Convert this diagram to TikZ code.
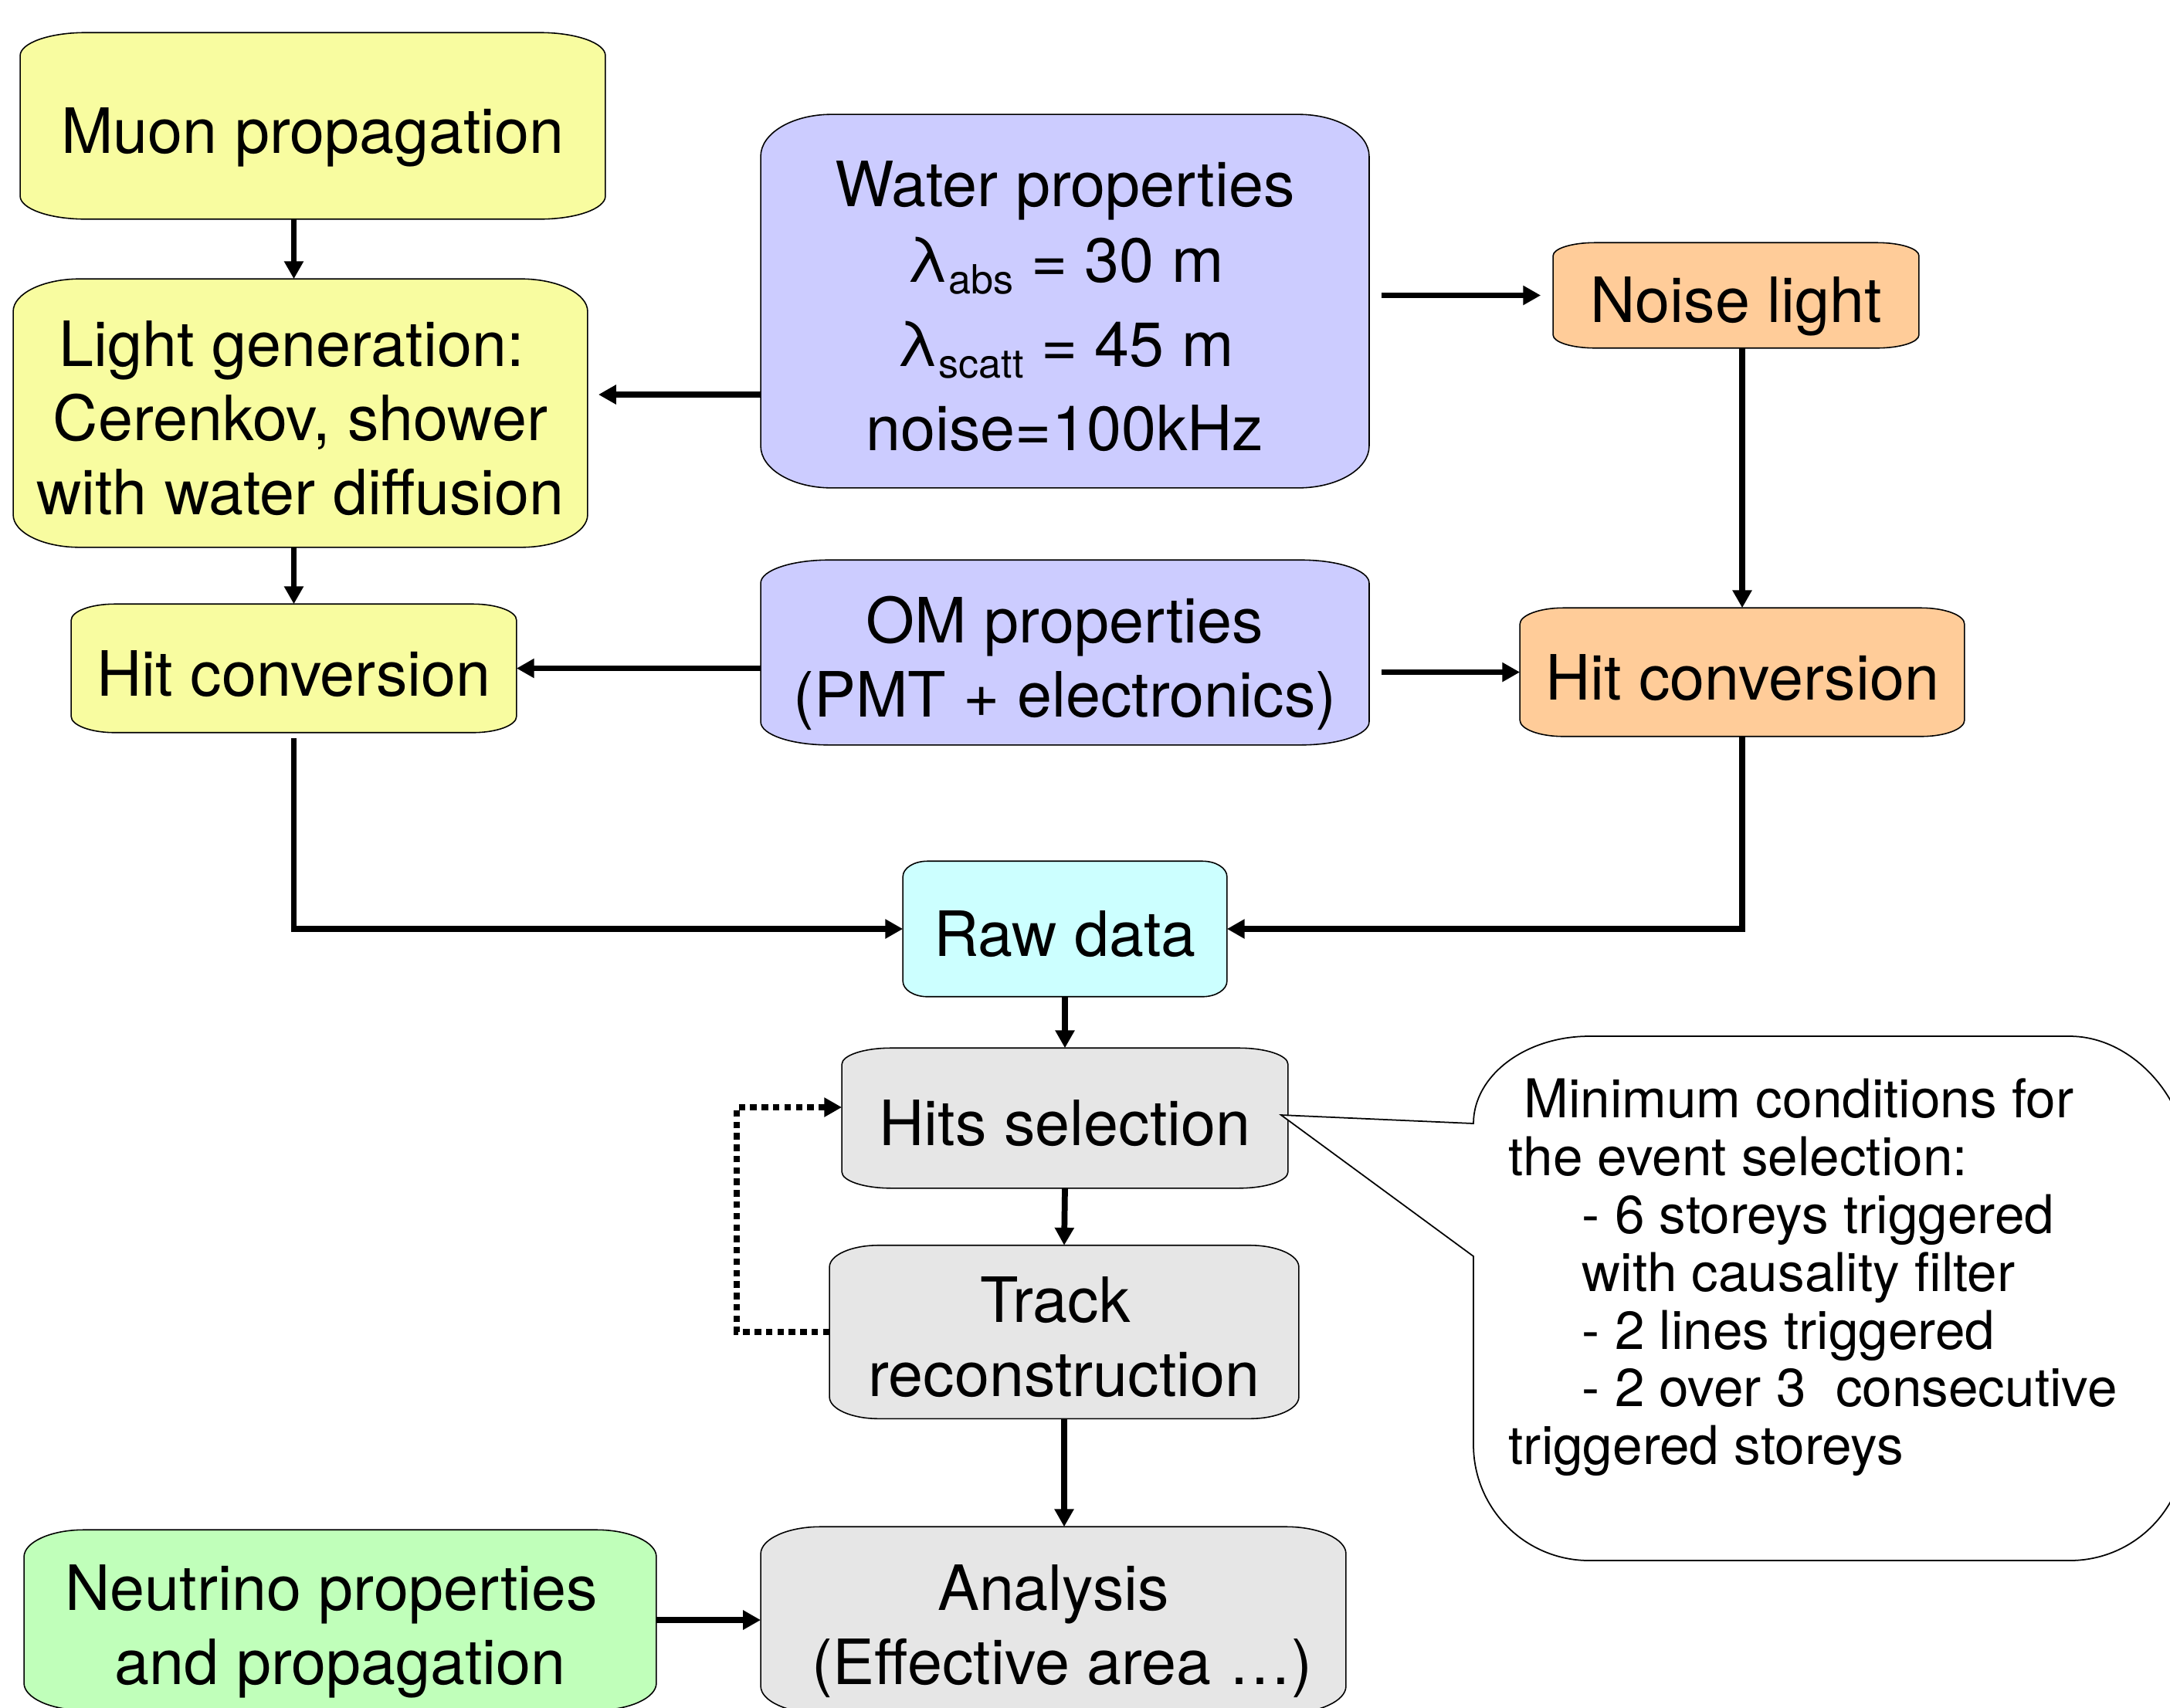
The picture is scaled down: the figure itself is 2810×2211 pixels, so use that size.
\documentclass[tikz,border=0pt]{standalone}
\usepackage{fontspec}
\setmainfont{TeX Gyre Heros}
\usetikzlibrary{arrows.meta,calc,backgrounds}

\definecolor{cyel}{RGB}{248,252,160}
\definecolor{clav}{RGB}{204,204,255}
\definecolor{corg}{RGB}{255,204,153}
\definecolor{ccyan}{RGB}{204,255,255}
\definecolor{cgray}{RGB}{230,230,230}
\definecolor{cgreen}{RGB}{192,255,186}

\newcommand\eshape[4]{%
 \begin{scope}[on background layer]
 \path[boxline, fill=#4]
   ($(#1.north west)+(#2,0pt)$) -- ($(#1.north east)+(-#2,0pt)$)
   .. controls +(0.55*#2,0pt) and +(0pt,0.55*#3) .. ($(#1.north east)+(0pt,-#3)$)
   -- ($(#1.south east)+(0pt,#3)$)
   .. controls +(0pt,-0.55*#3) and +(0.55*#2,0pt) .. ($(#1.south east)+(-#2,0pt)$)
   -- ($(#1.south west)+(#2,0pt)$)
   .. controls +(-0.55*#2,0pt) and +(0pt,-0.55*#3) .. ($(#1.south west)+(0pt,#3)$)
   -- ($(#1.north west)+(0pt,-#3)$)
   .. controls +(0pt,0.55*#3) and +(-0.55*#2,0pt) .. ($(#1.north west)+(#2,0pt)$) -- cycle;
 \end{scope}}

\newcommand\sub[1]{\raisebox{-4.3pt}{\fontsize{14.8}{14.8}\selectfont #1}}
\newcommand\tp{\rule{0pt}{25pt}}
\newcommand\bt{\rule[-4.8pt]{0pt}{4.8pt}}
\newcommand\tsp{\hspace*{6.4pt}}

\begin{document}
\begin{tikzpicture}[x=0.01cm,y=-0.01cm,
  box/.style={inner sep=0pt, align=center, font=\fontsize{23}{27.3}\selectfont},
  boxline/.style={draw=black, line width=0.45pt},
  arr/.style={line width=2.2pt, -{Triangle[width=6.8pt,length=6.5pt]}},
  dotarr/.style={line width=2.2pt, dash pattern=on 2.4pt off 1.8pt, -{Triangle[width=6.8pt,length=6.5pt]}},
  note/.style={inner sep=0pt, align=left, anchor=north west, font=\fontsize{19.7}{21.3}\selectfont},
]
\useasboundingbox (0,0) rectangle (2810,2211);

% nodes
\node[box, minimum width=7.56cm, minimum height=2.40cm] (muon) at (405,163) {\tp Muon propagation\bt};
\node[box, minimum width=7.42cm, minimum height=3.46cm] (light) at (389,535) {\tp Light generation:\tsp\\Cerenkov, shower\\with water diffusion\bt};
\node[box, minimum width=5.75cm, minimum height=1.65cm] (hity) at (380.5,865.5) {\tp Hit conversion\bt};
\node[box, minimum width=7.86cm, minimum height=4.82cm] (water) at (1379,390)
  {\tp Water properties\\[0.7pt]
   λ\sub{abs} = 30 m\\[3.7pt]
   λ\sub{scatt} = 45 m\\[3.7pt]
   noise=100kHz\bt};
\node[box, minimum width=4.72cm, minimum height=1.35cm] (noise) at (2248,382.5) {\tp Noise light\bt};
\node[box, minimum width=7.86cm, minimum height=2.38cm] (om) at (1379,845) {\tp OM properties\\(PMT + electronics)\bt};
\node[box, minimum width=5.74cm, minimum height=1.65cm] (hito) at (2256,870.5) {\tp Hit conversion\bt};
\node[box, minimum width=4.18cm, minimum height=1.74cm] (raw) at (1379,1203) {\tp Raw data\bt};
\node[box, minimum width=5.76cm, minimum height=1.80cm] (hits) at (1379,1448) {\tp Hits selection\bt};
\node[box, minimum width=6.06cm, minimum height=2.23cm] (track) at (1378,1725) {\tp Track\tsp\\reconstruction\bt};
\node[box, minimum width=7.56cm, minimum height=2.40cm] (analysis) at (1364,2098) {\tp Analysis\\\tsp(Effective area …)\bt};
\node[box, minimum width=8.17cm, minimum height=2.32cm] (neutrino) at (440.5,2098) {\tp Neutrino properties\tsp\\and propagation\bt};

% shapes
\eshape{muon}{24pt}{8.5pt}{cyel}
\eshape{light}{24.5pt}{12pt}{cyel}
\eshape{hity}{16pt}{6pt}{cyel}
\eshape{water}{26pt}{15.4pt}{clav}
\eshape{noise}{15.4pt}{4.8pt}{corg}
\eshape{om}{25pt}{8.5pt}{clav}
\eshape{hito}{16pt}{6pt}{corg}
\eshape{raw}{9pt}{5.7pt}{ccyan}
\eshape{hits}{18pt}{6pt}{cgray}
\eshape{track}{18pt}{8pt}{cgray}
\eshape{analysis}{22pt}{10pt}{cgray}
\eshape{neutrino}{22pt}{10pt}{cgreen}

% callout
\coordinate (tip) at ($(hits.east)+(-9,-4)$);
\path[draw=black, line width=0.5pt, fill=white]
  (2058,1342) -- (2680,1342)
  .. controls (2763,1342) and (2830,1425) .. (2830,1492)
  -- (2830,1871)
  .. controls (2830,1954) and (2763,2021) .. (2680,2021)
  -- (2058,2021)
  .. controls (1975,2021) and (1908,1954) .. (1908,1871)
  -- (1908,1627) -- (tip) -- (1908,1455)
  .. controls (1908,1393) and (1975,1342) .. (2058,1342) -- cycle;
\node[note] (cond) at (1953,1396)
  {\hspace*{5.7pt}Minimum conditions for\\
   the event selection:\\
   \hspace*{27pt}- 6 storeys triggered\\
   \hspace*{27pt}with causality filter\\
   \hspace*{27pt}- 2 lines triggered\\
   \hspace*{27pt}- 2 over 3\ \ consecutive\\
   triggered storeys};

% connectors
\draw[arr] (muon.south -| hity) -- (light.north -| hity);
\draw[arr] (light.south -| hity) -- (hity.north);
\coordinate (wl) at ($(water.west)+(0,121)$);
\draw[arr, shorten >=0.14cm] (wl) -- (wl -| light.east);
\draw[arr, shorten <=0.16cm, shorten >=0.16cm] (water.east |- noise) -- (noise.west);
\draw[arr] (om.west |- hity) -- (hity.east);
\draw[arr, shorten <=0.16cm] (om.east |- hito) -- (hito.west);
\draw[arr] (noise.south -| hito) -- (hito.north);
\draw[arr, shorten <=0.07cm] (hity.south) |- (raw.west);
\draw[arr] (hito.south) |- (raw.east);
\draw[arr] (raw.south) -- (hits.north);
\draw[arr] (hits.south) -- (track.north);
\draw[arr] (track.south) -- (track.south |- analysis.north);
\draw[arr] (neutrino.east) -- (analysis.west |- neutrino.east);
\draw[dotarr] (track.west) -- ++(-120,0) |- ($(hits.west)+(0,-14)$);
\end{tikzpicture}
\end{document}
